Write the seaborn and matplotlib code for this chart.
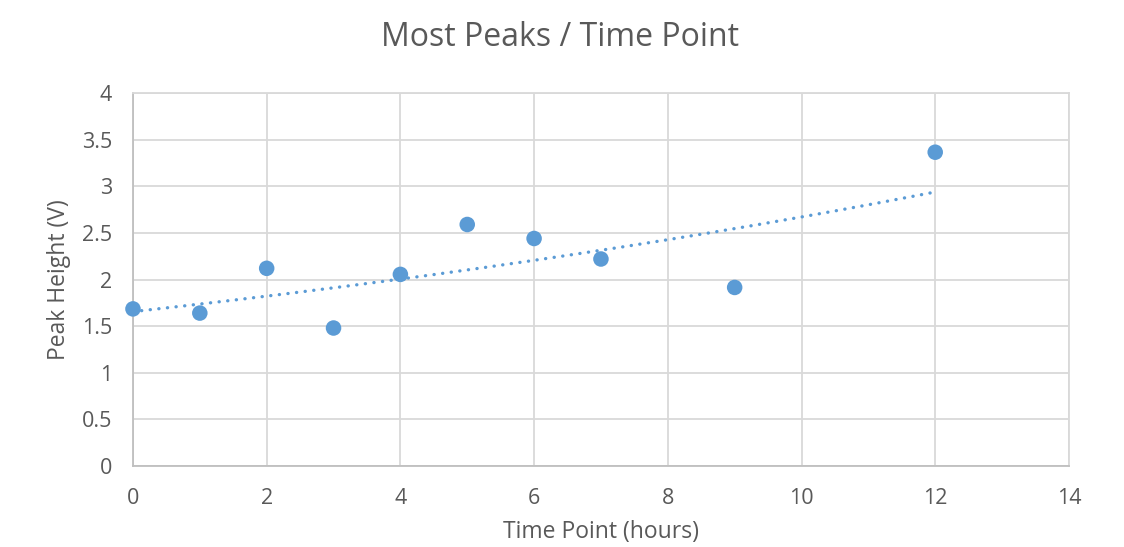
import numpy as np
import pandas as pd
import matplotlib
matplotlib.use("Agg")
import matplotlib.pyplot as plt
import seaborn as sns

# Peak heights measured at each sampling time
time_hours = [0, 1, 2, 3, 4, 5, 6, 7, 9, 12]
peak_height_v = [1.685, 1.64, 2.12, 1.48, 2.055, 2.59, 2.44, 2.22, 1.915, 3.365]

x_ticks = [0, 2, 4, 6, 8, 10, 12, 14]
y_ticks = [0, 0.5, 1, 1.5, 2, 2.5, 3, 3.5, 4]
y_tick_labels = ["0", "0.5", "1", "1.5", "2", "2.5", "3", "3.5", "4"]

df = pd.DataFrame({"time": time_hours, "peak": peak_height_v})

# Exponential trendline y = a * exp(b * x), least squares on log(y)
b, log_a = np.polyfit(df["time"], np.log(df["peak"]), 1)
trend_x = np.linspace(min(time_hours), max(time_hours), 200)
trend = pd.DataFrame({"time": trend_x, "peak": np.exp(log_a) * np.exp(b * trend_x)})

sns.set_theme(style="white")
plt.rcParams["font.family"] = ["Open Sans", "DejaVu Sans"]

blue = "#5B9BD5"
grid_c = "#D9D9D9"
text_c = "#595959"

fig = plt.figure(figsize=(11.24, 5.47), dpi=100)
ax = fig.add_axes([0.1183, 0.148, 0.951 - 0.1183, 0.830 - 0.148])

sns.lineplot(data=trend, x="time", y="peak", ax=ax, color=blue,
             linewidth=2.4, linestyle=(0, (0.05, 2.55)),
             dash_capstyle="round", zorder=3)

sns.scatterplot(data=df, x="time", y="peak", ax=ax, color=blue, s=125,
                edgecolor="none", zorder=4, clip_on=False)

ax.set_xlim(0, 14)
ax.set_ylim(0, 4)
ax.set_xticks(x_ticks)
ax.set_yticks(y_ticks)
ax.set_yticklabels(y_tick_labels)
ax.grid(True, color=grid_c, linewidth=1.3)
ax.set_axisbelow(True)

for side in ["top", "right"]:
    ax.spines[side].set_color(grid_c)
    ax.spines[side].set_linewidth(1.3)
for side in ["left", "bottom"]:
    ax.spines[side].set_color("#BFBFBF")
    ax.spines[side].set_linewidth(1.3)

ax.tick_params(axis="both", length=0, labelsize=15.5, labelcolor=text_c)
ax.tick_params(axis="y", pad=15)
ax.tick_params(axis="x", pad=16)

ax.set_xlabel("")
ax.set_ylabel("")
fig.text(601 / 1124, 3 / 547, "Time Point (hours)",
         ha="center", va="bottom", fontsize=16.5, color=text_c)
fig.text(59 / 1124, 0.5 * (0.148 + 0.830), "Peak Height (V)", rotation=90,
         ha="center", va="center", fontsize=16.5, color=text_c)
fig.text(560 / 1124, 1 - 38 / 547, "Most Peaks / Time Point",
         ha="center", va="center", fontsize=23, color=text_c)

fig.savefig("out.png", dpi=100, facecolor="white")
